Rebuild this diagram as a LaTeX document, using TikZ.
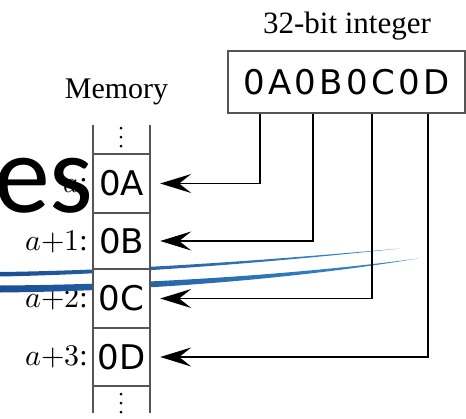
\documentclass[tikz,border=0pt]{standalone}
\usepackage{fontspec}
\setmainfont{Liberation Serif}
\newfontfamily\dejavu{DejaVu Sans}
\newfontfamily\carlito{Carlito}
\usepackage{unicode-math}
\setmathfont{Latin Modern Math}
\usetikzlibrary{arrows.meta}
\definecolor{swdark}{HTML}{1B4E94}
\definecolor{swlight}{HTML}{3A8CCB}
\definecolor{gridgray}{HTML}{555555}
\tikzset{
  cell/.style={minimum width=57pt, inner sep=0pt, font=\dejavu\fontsize{34}{40}\selectfont},
  lbl/.style={anchor=base east, inner sep=0pt, font=\fontsize{30}{36}\selectfont},
  conn/.style={line width=1.3pt, -{Stealth[length=31pt,width=19pt,inset=12pt]}},
  grid/.style={gridgray, line width=1.1pt},
  dotc/.style={circle, fill=black, inner sep=0pt, minimum size=3pt}
}
\begin{document}
\begin{tikzpicture}[x=1pt,y=-1pt]
\useasboundingbox (0,0) rectangle (466,418);
% labels
\node[lbl] (l0) at (88,192) {$a$:};
\node[lbl] (l1) at (88,250) {$a{+}1$:};
\node[lbl] (l2) at (88,307.5) {$a{+}2$:};
\node[lbl] (l3) at (88,365.5) {$a{+}3$:};
% blue swooshes
\shade[left color=swdark, right color=swlight]
  (0,272) .. controls (150,270) and (300,257) .. (400,248.5)
  .. controls (300,259) and (150,273.5) .. (0,276.5) -- cycle;
\shade[left color=swdark, right color=swlight]
  (0,285.5) .. controls (150,284.5) and (300,274) .. (418,258.5)
  .. controls (300,278) and (150,291) .. (0,292.5) -- cycle;
% memory column
\fill[white] (93,125) rectangle (150,413);
\draw[grid] (93,125) -- (93,413) (150,125) -- (150,413);
\foreach \yy in {154,213,269,328,386} \draw[grid] (93,\yy) -- (150,\yy);
\node[cell, minimum height=59pt] (c0) at (121.5,183.5) {0A};
\node[cell, minimum height=56pt] (c1) at (121.5,241) {0B};
\node[cell, minimum height=59pt] (c2) at (121.5,298.5) {0C};
\node[cell, minimum height=58pt] (c3) at (121.5,357) {0D};
\node[dotc] (t1) at (121,128) {};
\node[dotc] (t2) at (121,137) {};
\node[dotc] (t3) at (121,146) {};
\node[dotc] (b1) at (121,394) {};
\node[dotc] (b2) at (121,403) {};
\node[dotc] (b3) at (121,412) {};
\node[anchor=base, inner sep=0pt, font=\fontsize{30}{36}\selectfont] (mem) at (116.5,98) {Memory};
% integer box
\node[anchor=base, inner sep=0pt, font=\fontsize{31}{37}\selectfont] (title) at (347,33) {32-bit integer};
\node[draw=gridgray, line width=1.4pt, minimum width=237pt, minimum height=62pt, inner sep=0pt,
  font=\dejavu\fontsize{34}{40}\selectfont] (box) at (346.5,82)
  {0\kern3.4pt A\kern3.4pt 0\kern3.4pt B\kern3.4pt 0\kern3.4pt C\kern3.4pt 0\kern3.4pt D};
\coordinate (k0) at (260,0);
\coordinate (k1) at (313,0);
\coordinate (k2) at (372,0);
\coordinate (k3) at (428,0);
\draw[conn] (box.south -| k0) |- ([xshift=10pt]c0.east);
\draw[conn] (box.south -| k1) |- ([xshift=10pt]c1.east);
\draw[conn] (box.south -| k2) |- ([xshift=10pt]c2.east);
\draw[conn] (box.south -| k3) |- ([xshift=10pt]c3.east);
% overlay text
\node[anchor=base west, inner sep=0pt, font=\carlito\fontsize{112}{120}\selectfont] (es) at (-6,212) {es};
\end{tikzpicture}
\end{document}
